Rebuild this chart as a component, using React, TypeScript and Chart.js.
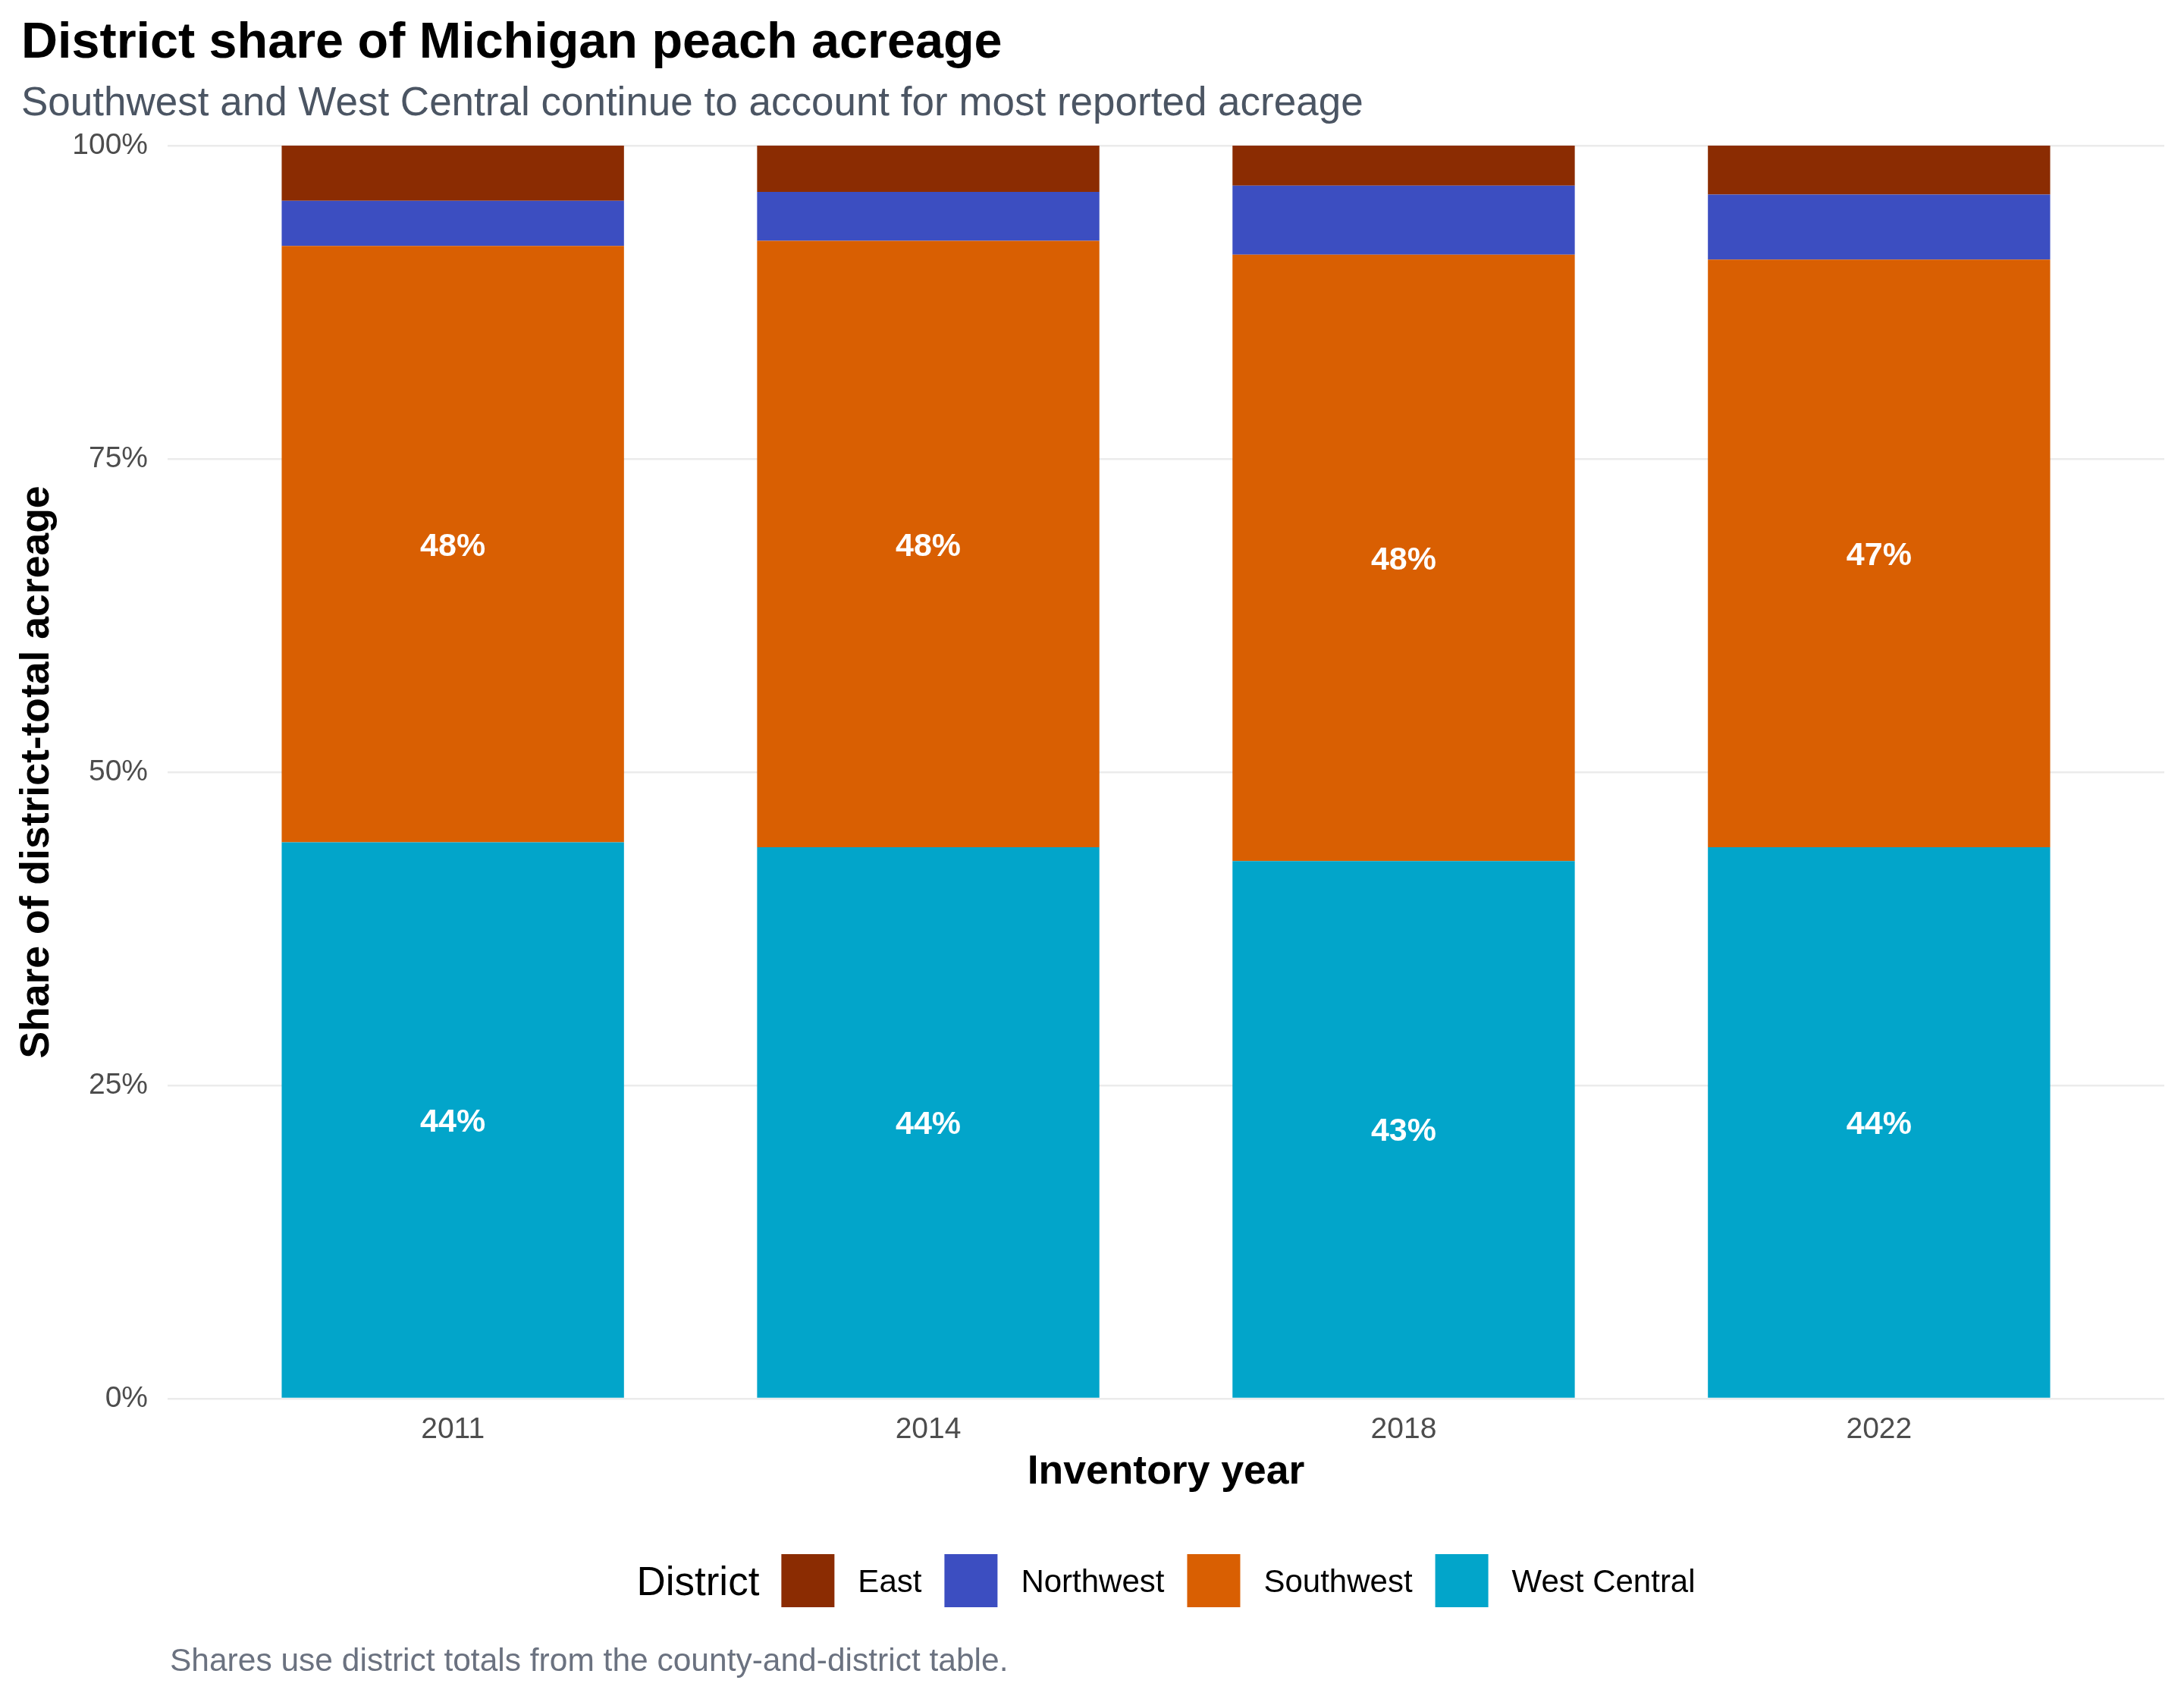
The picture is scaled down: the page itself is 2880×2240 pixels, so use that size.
import React, { useEffect, useRef } from "react";
import { Chart, registerables } from "chart.js";

Chart.register(...registerables);

const years = ["2011", "2014", "2018", "2022"];
const legendOrder = ["East", "Northwest", "Southwest", "West Central"];
const eastShare = [4.4, 3.7, 3.2, 3.9];
const northwestShare = [3.6, 3.9, 5.5, 5.2];
const southwestShare = [47.6, 48.4, 48.4, 46.9];
const westCentralShare = [44.4, 44.0, 42.9, 44.0];
const yTickValues = [0, 25, 50, 75, 100];

const titleText = "District share of Michigan peach acreage";
const subtitleText = "Southwest and West Central continue to account for most reported acreage";
const captionText = "Shares use district totals from the county-and-district table.";
const xTitle = "Inventory year";
const yTitle = "Share of district-total acreage";
const legendTitle = "District";

const FONT = '"Liberation Sans", Arial, Helvetica, sans-serif';

const colors: Record<string, string> = {
  East: "#8B2C02",
  Northwest: "#3C4EC1",
  Southwest: "#D95F02",
  "West Central": "#02A5CA",
};

const W = 2880;
const H = 2240;

const barLabels = {
  id: "barLabels",
  afterDatasetsDraw(chart: any) {
    const ctx = chart.ctx;
    ctx.save();
    ctx.font = `bold 43px ${FONT}`;
    ctx.fillStyle = "#FFFFFF";
    ctx.textAlign = "center";
    ctx.textBaseline = "alphabetic";
    chart.data.datasets.forEach((ds: any, di: number) => {
      const meta = chart.getDatasetMeta(di);
      meta.data.forEach((bar: any, i: number) => {
        const v = ds.data[i].y;
        if (v < 10) return;
        const p = bar.getProps(["x", "y", "base"], true);
        const mid = (p.y + p.base) / 2;
        ctx.fillText(`${Math.round(v)}%`, p.x, mid + 0.358 * 43);
      });
    });
    ctx.restore();
  },
};

const decor = {
  id: "decor",
  afterDraw(chart: any) {
    const ctx = chart.ctx;
    const ca = chart.chartArea;
    ctx.save();
    ctx.textAlign = "left";
    ctx.textBaseline = "alphabetic";
    ctx.fillStyle = "#000000";
    ctx.font = `bold 66.5px ${FONT}`;
    ctx.fillText(titleText, 28, 76);
    ctx.fillStyle = "#4B5563";
    ctx.font = `53px ${FONT}`;
    ctx.fillText(subtitleText, 28, 152);

    // legend
    const cy = 2084;
    ctx.font = `53px ${FONT}`;
    const tw = ctx.measureText(legendTitle).width;
    ctx.font = `42px ${FONT}`;
    const widths = legendOrder.map((n) => ctx.measureText(n).width);
    const box = 70;
    const gapBoxText = 31;
    const gapItems = 30;
    const gapTitle = 29;
    const total =
      tw + gapTitle + widths.reduce((s, w) => s + box + gapBoxText + w, 0) + gapItems * (widths.length - 1);
    let x = (ca.left + ca.right) / 2 - total / 2;
    ctx.fillStyle = "#000000";
    ctx.font = `53px ${FONT}`;
    ctx.fillText(legendTitle, x, cy + 0.358 * 53);
    x += tw + gapTitle;
    ctx.font = `42px ${FONT}`;
    legendOrder.forEach((name, i) => {
      const ds = chart.data.datasets.find((d: any) => d.label === name);
      ctx.fillStyle = ds ? ds.backgroundColor : colors[name];
      ctx.fillRect(x, cy - box / 2, box, box);
      x += box + gapBoxText;
      ctx.fillStyle = "#000000";
      ctx.fillText(name, x, cy + 0.358 * 42);
      x += widths[i] + gapItems;
    });

    ctx.fillStyle = "#6B7280";
    ctx.font = `42.5px ${FONT}`;
    ctx.fillText(captionText, 224, 2203);
    ctx.restore();
  },
};

export default function App() {
  const ref = useRef<HTMLCanvasElement | null>(null);

  useEffect(() => {
    document.body.style.margin = "0";
    const canvas = ref.current;
    if (!canvas) return;
    const toPoints = (arr: number[]) => arr.map((v, i) => ({ x: i, y: v }));
    const stackOrder = [
      { label: "West Central", data: westCentralShare },
      { label: "Southwest", data: southwestShare },
      { label: "Northwest", data: northwestShare },
      { label: "East", data: eastShare },
    ];
    const chart = new Chart(canvas, {
      type: "bar",
      data: {
        datasets: stackOrder.map((s) => ({
          label: s.label,
          data: toPoints(s.data),
          backgroundColor: colors[s.label],
          borderWidth: 0,
          barPercentage: 0.72,
          categoryPercentage: 1,
        })),
      },
      options: {
        responsive: false,
        animation: false,
        layout: { padding: { left: 0, top: 192, right: 26, bottom: H - 1984 } },
        plugins: {
          legend: { display: false },
          tooltip: { enabled: false },
          title: { display: false },
        },
        scales: {
          x: {
            type: "linear",
            stacked: true,
            min: -0.6,
            max: 3.6,
            offset: false,
            grid: { display: false },
            border: { display: false },
            afterBuildTicks: (axis: any) => {
              axis.ticks = years.map((_, i) => ({ value: i }));
            },
            afterFit: (axis: any) => {
              axis.height = 140;
            },
            ticks: {
              autoSkip: false,
              maxRotation: 0,
              padding: 10,
              color: "#4D4D4D",
              font: { family: FONT, size: 39 },
              callback: (v: any) => years[Math.round(Number(v))] ?? "",
            },
            title: {
              display: true,
              text: xTitle,
              color: "#000000",
              font: { family: FONT, size: 53.5, weight: "bold" },
              padding: { top: 0, bottom: 11 },
            },
          },
          y: {
            stacked: true,
            min: 0,
            max: 100,
            grid: { color: "#EBEBEB", lineWidth: 2.5, drawTicks: false },
            border: { display: false },
            afterBuildTicks: (axis: any) => {
              axis.ticks = yTickValues.map((v) => ({ value: v }));
            },
            afterFit: (axis: any) => {
              axis.width = 221;
            },
            ticks: {
              padding: 26,
              color: "#4D4D4D",
              font: { family: FONT, size: 39 },
              callback: (v: any) => `${v}%`,
            },
            title: {
              display: true,
              text: yTitle,
              color: "#000000",
              font: { family: FONT, size: 53.5, weight: "bold" },
              padding: { top: 17, bottom: 0 },
            },
          },
        },
      },
      plugins: [barLabels, decor],
    } as any);
    return () => chart.destroy();
  }, []);

  return (
    <div>
      <canvas ref={ref} width={W} height={H} style={{ display: "block", width: W, height: H }} />
    </div>
  );
}
